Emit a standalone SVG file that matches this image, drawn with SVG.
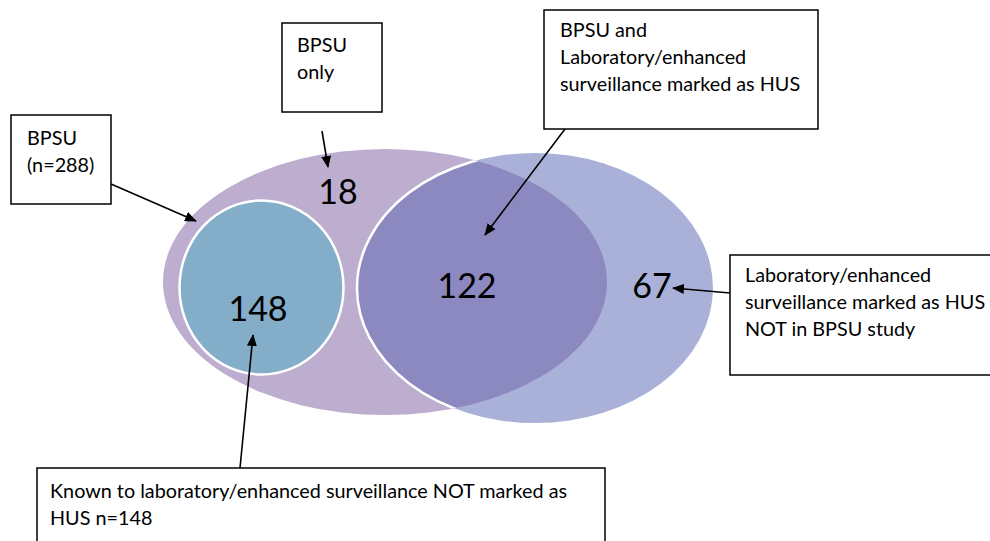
<svg xmlns="http://www.w3.org/2000/svg" width="990" height="541" viewBox="0 0 990 541">
<defs>
<style>
.box{fill:#fff;stroke:#000;stroke-width:1.5}
.lbl{font-family:Lato,"Liberation Sans",sans-serif;font-size:19.8px;fill:#000}
.num{font-family:Lato,"Liberation Sans",sans-serif;font-size:34px;fill:#000;text-anchor:middle}
.conn{stroke:#000;stroke-width:1.6;fill:none;marker-end:url(#ah)}
</style>
<marker id="ah" markerWidth="12" markerHeight="10" refX="11" refY="5" orient="auto" markerUnits="userSpaceOnUse">
<path d="M0,0 L12,5 L0,10 Z" fill="#000"/>
</marker>
<clipPath id="purpleClip"><ellipse cx="385" cy="282" rx="222" ry="133"/></clipPath>
</defs>
<g id="venn">
<ellipse id="lab-ellipse" cx="535" cy="288" rx="178" ry="135" fill="#aab1d8"/>
<ellipse id="bpsu-ellipse" cx="385" cy="282" rx="222" ry="133" fill="#bdaed0"/>
<ellipse id="overlap" cx="535" cy="288" rx="178" ry="135" fill="#8b89bf" stroke="#fff" stroke-width="2.5" clip-path="url(#purpleClip)"/>
<ellipse id="known-circle" cx="261.5" cy="287.5" rx="82" ry="87" fill="#83adc9" stroke="#fff" stroke-width="2.5"/>
<text class="num" x="338" y="204">18</text>
<text class="num" x="258" y="321">148</text>
<text class="num" x="467" y="298">122</text>
<text class="num" x="652" y="298">67</text>
</g>
<g id="node-bpsu288">
<rect class="box" x="11" y="115" width="100" height="89"/>
<text class="lbl" x="27" y="145">BPSU</text>
<text class="lbl" x="27" y="172">(n=288)</text>
</g>
<g id="node-bpsuonly">
<rect class="box" x="282" y="23" width="100" height="89"/>
<text class="lbl" x="297" y="52">BPSU</text>
<text class="lbl" x="297" y="79">only</text>
</g>
<g id="node-both">
<rect class="box" x="544" y="10" width="274" height="119"/>
<text class="lbl" x="560" y="37">BPSU and</text>
<text class="lbl" x="560" y="64">Laboratory/enhanced</text>
<text class="lbl" x="560" y="91">surveillance marked as HUS</text>
</g>
<g id="node-labonly">
<rect class="box" x="730" y="255" width="266" height="120"/>
<text class="lbl" x="745" y="282">Laboratory/enhanced</text>
<text class="lbl" x="745" y="309">surveillance marked as HUS</text>
<text class="lbl" x="745" y="336">NOT in BPSU study</text>
</g>
<g id="node-known">
<rect class="box" x="37" y="468" width="568" height="80"/>
<text class="lbl" x="50" y="498">Known to laboratory/enhanced surveillance NOT marked as</text>
<text class="lbl" x="50" y="525">HUS n=148</text>
</g>
<g id="connectors">
<line class="conn" x1="111" y1="184" x2="196" y2="221"/>
<line class="conn" x1="322" y1="131" x2="328" y2="167"/>
<line class="conn" x1="565" y1="129" x2="485" y2="235"/>
<line class="conn" x1="730" y1="293" x2="673" y2="288"/>
<line class="conn" x1="240" y1="468" x2="253" y2="335"/>
</g>
</svg>
